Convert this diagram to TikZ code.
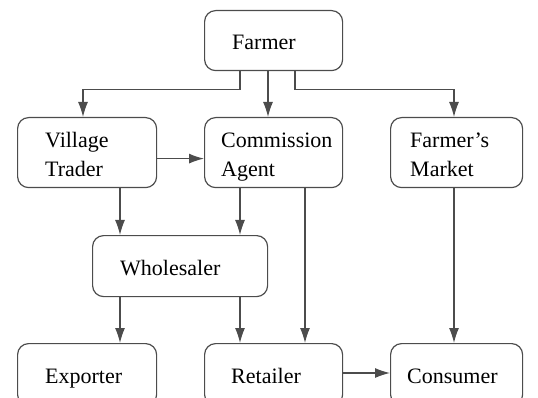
\documentclass[tikz,border=0pt]{standalone}
\usepackage{fontspec}
\newfontfamily\diagserif{Liberation Serif}
\usetikzlibrary{arrows.meta}
\begin{document}
\begin{tikzpicture}[x=1pt,y=-1pt,
  box/.style={draw=black!70, line width=1.2pt, rounded corners=11pt, anchor=north west, inner sep=0pt},
  lbl/.style={anchor=base west, inner sep=0pt, font=\diagserif\fontsize{22}{29}\selectfont, text=black},
  conn/.style={draw=black!70, line width=1.2pt, -{Latex[length=15pt,width=10pt]}}]
\useasboundingbox (0,0) rectangle (538,398);
% boxes
\node[box, minimum width=138pt, minimum height=60pt] (farmer) at (204,10) {};
\node[box, minimum width=139pt, minimum height=70pt] (village) at (17,117) {};
\node[box, minimum width=138pt, minimum height=70pt] (commission) at (204,117) {};
\node[box, minimum width=132pt, minimum height=70pt] (market) at (390,117) {};
\node[box, minimum width=175pt, minimum height=61pt] (wholesaler) at (92,235) {};
\node[box, minimum width=139pt, minimum height=62pt] (exporter) at (17,343) {};
\node[box, minimum width=138pt, minimum height=62pt] (retailer) at (204,343) {};
\node[box, minimum width=132pt, minimum height=62pt] (consumer) at (390,343) {};
% labels
\node[lbl] (tfarmer) at (232,50) {Farmer};
\node[lbl] (tvillageA) at (45,148) {Village};
\node[lbl] (tvillageB) at (45,177) {Trader};
\node[lbl] (tcommA) at (221,148) {Commission};
\node[lbl] (tcommB) at (221,177) {Agent};
\node[lbl] (tmarketA) at (410,148) {Farmer’s};
\node[lbl] (tmarketB) at (410,177) {Market};
\node[lbl] (twholesaler) at (120,275) {Wholesaler};
\node[lbl] (texporter) at (45,383) {Exporter};
\node[lbl] (tretailer) at (231,383) {Retailer};
\node[lbl] (tconsumer) at (407,383) {Consumer};
% connectors
\draw[conn] ([xshift=36pt]farmer.south west) -- ++(0,18) -| ([xshift=66pt]village.north west);
\draw[conn] ([xshift=64pt]farmer.south west) -- ([xshift=64pt]commission.north west);
\draw[conn] ([xshift=91pt]farmer.south west) -- ++(0,18) -| ([xshift=64pt]market.north west);
\draw[conn] ([yshift=-6pt]village.east) -- ([yshift=-6pt]commission.west);
\draw[conn] ([xshift=103pt]village.south west) -- ([xshift=28pt]wholesaler.north west);
\draw[conn] ([xshift=36pt]commission.south west) -- ([xshift=148pt]wholesaler.north west);
\draw[conn] ([xshift=101pt]commission.south west) -- ([xshift=101pt]retailer.north west);
\draw[conn] ([xshift=64pt]market.south west) -- ([xshift=64pt]consumer.north west);
\draw[conn] ([xshift=28pt]wholesaler.south west) -- ([xshift=103pt]exporter.north west);
\draw[conn] ([xshift=148pt]wholesaler.south west) -- ([xshift=36pt]retailer.north west);
\draw[conn] ([yshift=-30pt]retailer.north east) -- ([yshift=-30pt]consumer.north west);
\end{tikzpicture}
\end{document}
